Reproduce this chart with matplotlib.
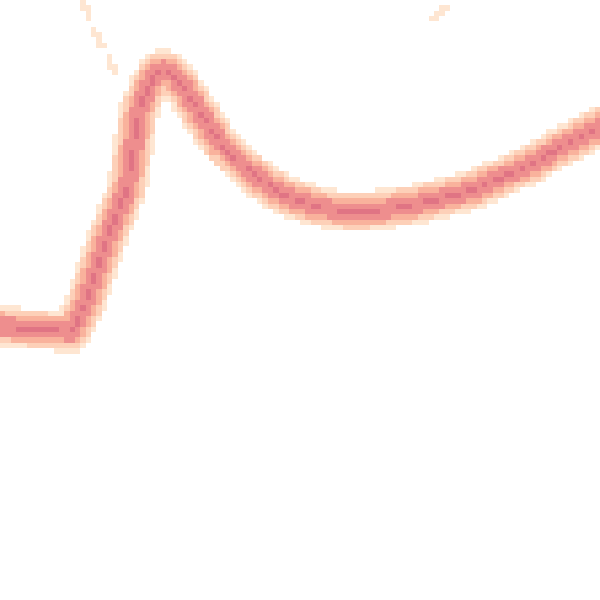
import numpy as np
import matplotlib
matplotlib.use("Agg")
import matplotlib.pyplot as plt
from matplotlib.colors import ListedColormap, BoundaryNorm

# Main trajectory (x, y) in chart coordinates (y down)
main_x = [0, 30, 72, 85, 95, 105, 118, 127, 133, 139, 147, 154, 160, 167, 175, 183, 192, 202,
          220, 250, 283, 317, 350, 383, 417, 447, 470, 500, 530, 560, 593, 610]
main_y = [326, 329, 332, 305, 275, 245, 210, 190, 150, 112, 90, 77, 70, 70, 76, 87, 101, 116,
          143, 172, 195, 207, 212, 210, 204, 197, 191, 178, 165, 148, 130, 122]

# Faint secondary traces
faint1_x = [82, 118]
faint1_y = [3, 76]
faint2_x = [432, 460]
faint2_y = [21, -3]

N = 112  # bins per side


def render(xs, ys, width_cells, style="-"):
    f = plt.figure(figsize=(N / 100, N / 100), dpi=100)
    a = f.add_axes([0, 0, 1, 1])
    a.set_xlim(0, 600)
    a.set_ylim(600, 0)
    a.axis("off")
    for x, y, w, ls in zip(xs, ys, width_cells, style):
        a.plot(x, y, color="black", lw=w * 0.72, ls=ls, solid_capstyle="round",
               solid_joinstyle="round")
    f.canvas.draw()
    img = np.asarray(f.canvas.buffer_rgba())[:, :, 0].astype(float)
    plt.close(f)
    return 1 - img / 255.0


density = np.zeros((N, N))
for w in [1.0, 2.4, 4.0, 5.6, 7.0]:
    density += render([main_x], [main_y], [w])
density += 0.8 * render([faint1_x, faint2_x], [faint1_y, faint2_y], [1.0, 1.1], ["--", "--"])

colors = ["#ffffff", "#fee6d2", "#fdd0b8", "#f9b29c", "#ee8e8e", "#e07484"]
cmap = ListedColormap(colors)
norm = BoundaryNorm([0, 0.25, 1.0, 2.0, 3.0, 4.7, 20], cmap.N)

fig = plt.figure(figsize=(6, 6), dpi=100)
ax = fig.add_axes([0, 0, 1, 1])
ax.imshow(density, cmap=cmap, norm=norm, interpolation="nearest",
          extent=[0, 600, 600, 0], aspect="auto")
ax.set_xlim(0, 600)
ax.set_ylim(600, 0)
ax.axis("off")
fig.savefig("out.png", dpi=100)
